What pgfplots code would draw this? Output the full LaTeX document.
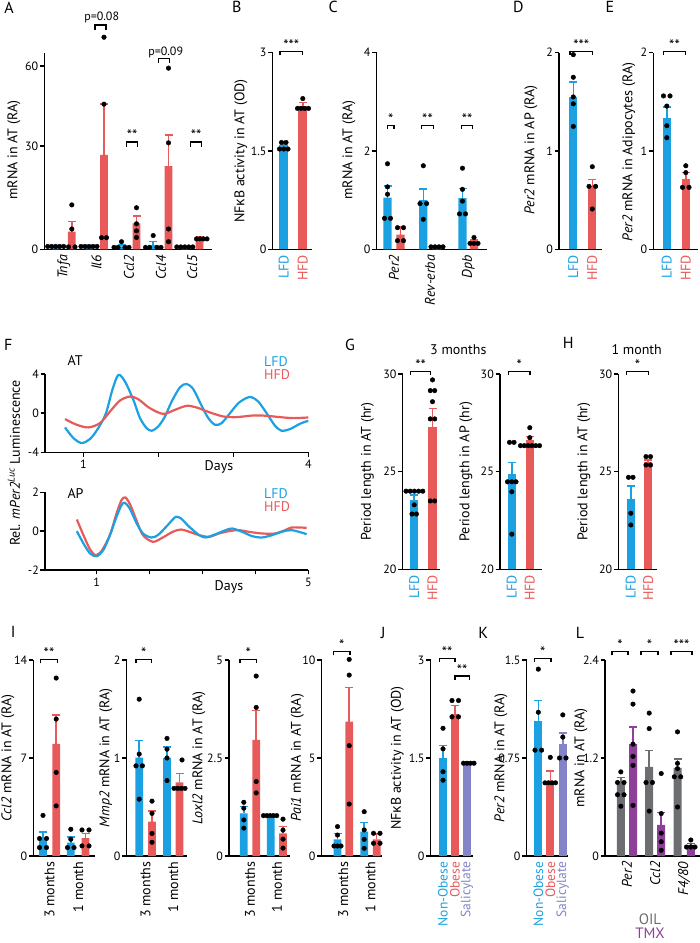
\documentclass[border=0pt]{standalone}
\usepackage{pgfplots}
\pgfplotsset{compat=1.18}
\usepackage{fontspec}
\setmainfont{PT Sans}
\newfontfamily\gk{Open Sans}
\definecolor{cB}{HTML}{1BA1E2}
\definecolor{cR}{HTML}{E85A5A}
\definecolor{cS}{HTML}{8383C8}
\definecolor{cO}{HTML}{6D6E71}
\definecolor{cT}{HTML}{8E3F99}
\newcommand\fT{\fontsize{12}{13}\selectfont}
\newcommand\fL{\fontsize{14}{15}\selectfont}
\newcommand\fX{\fontsize{15}{16}\selectfont}
\newcommand\fS{\fontsize{15}{16}\selectfont}
\newcommand\fP{\fontsize{16}{17}\selectfont}
\newcommand\brk[4]{\draw[line width=1.2pt] (#1,#4) -- (#1,#3) -- (#2,#3) -- (#2,#4);}
\newcommand\st[3]{\node[font=\fS, anchor=base, inner sep=0pt] at (#1,#2) {#3};}
\pgfplotsset{
 gp/.style={scale only axis, anchor=south west, axis x line*=bottom, axis y line*=left,
  axis line style={-, line width=1.5pt, black},
  tick align=outside, major tick length=4.5pt, tick style={line width=1.5pt, black},
  yticklabel style={font=\fT, inner sep=1.5pt}, xticklabel style={font=\fT},
  clip=false, /pgf/number format/assume math mode=true},
 barx/.style={xtick style={draw=none}, xticklabel style={font=\fL, rotate=90, anchor=east, inner sep=1pt}},
 bars/.style={ybar, bar shift=0pt, fill=#1, draw=none,
  error bars/y dir=plus, error bars/y explicit,
  error bars/error bar style={#1, line width=1.5pt},
  error bars/error mark options={rotate=90, #1, mark size=4pt, line width=1.5pt}},
 barsn/.style={ybar, bar shift=0pt, fill=#1, draw=none},
 errA/.style={#1, line width=1.5pt, mark=-, mark size=4pt, mark indices={2}, mark options={solid, #1, line width=1.5pt}},
 dots/.style={only marks, mark=*, mark size=2.3pt, black},
}
\begin{document}
\begin{tikzpicture}
\path[use as bounding box] (0,0) rectangle (700pt,943pt);

% ---------------- A (segmented axis: 0-30 and 30-65)
\begin{axis}[gp, at={(44.3pt,693.7pt)}, width=167.7pt, height=196.6pt,
 xmin=44.3, xmax=212, ymin=0, ymax=65,
 y coord trafo/.code={\pgfmathparse{(#1<=30)?(#1):(30+(#1-30)*0.775)}},
 y coord inv trafo/.code={\pgfmathparse{(#1<=30)?(#1):(30+(#1-30)/0.775)}},
 ytick={0,30,60}, yticklabels={0,30,60}, barx,
 xtick={63.75,96.5,129,160.85,192.15},
 xticklabels={\textit{Tnfa},\textit{Il6},\textit{Ccl2},\textit{Ccl4},\textit{Ccl5}}, bar width=7.7pt]
\addplot[barsn=cB] coordinates {(55.7,0.82)(89,0.82)(121.5,0.88)(153.2,1.23)(184.8,0.69)};
\addplot[barsn=cR] coordinates {(71.8,5.12)(104,27.4)(136.5,7.55)(168.5,24.2)(199.5,3.66)};
\addplot[errA=cB] coordinates {(121.5,0.88)(121.5,1.23)};
\addplot[errA=cB] coordinates {(153.2,1.23)(153.2,2.2)};
\addplot[errA=cR] coordinates {(71.8,5.12)(71.8,8.03)};
\addplot[errA=cR] coordinates {(104,27.4)(104,45.7)};
\addplot[errA=cR] coordinates {(136.5,7.55)(136.5,9.67)};
\addplot[errA=cR] coordinates {(168.5,24.2)(168.5,34.1)};
\addplot[errA=cR] coordinates {(199.5,3.66)(199.5,3.77)};
\addplot[dots] coordinates {(47.7,0.82)(51.7,0.82)(55.7,0.82)(59.7,0.82)(63.7,0.82)
 (71.8,12.9)(71.8,5.9)(68.5,0.69)(75,0.69)
 (81,0.82)(85,0.82)(89,0.82)(93,0.82)(97,0.82)
 (104,70.8)(104,45.7)(101.5,3.38)(106.5,3.38)
 (121.5,2.2)(114,0.55)(118,0.55)(125,0.55)(129,0.55)
 (136.5,12.07)(136.5,7.41)(136.5,5.35)(136.5,3.43)
 (153.2,4.0)(145.5,0.55)(149.5,0.55)(157,0.55)(161,0.55)
 (168.5,59.2)(168.5,31.2)(168.5,5.9)(168.5,2.2)
 (176.8,0.69)(180.8,0.69)(184.8,0.69)(188.8,0.69)(192.8,0.69)
 (196.5,3.02)(200,3.02)(203.5,3.02)(207,3.02)};
\end{axis}

% ---------------- B
\begin{axis}[gp, at={(272.7pt,693.7pt)}, width=39pt, height=196.6pt,
 xmin=272.7, xmax=311.7, ymin=0, ymax=3, ytick={0,1.5,3}, yticklabels={0,1.5,3}, barx,
 xtick={283.8,302.8}, xticklabels={\textcolor{cB}{LFD},\textcolor{cR}{HFD}}, bar width=9pt]
\addplot[bars=cB] coordinates {(283.8,1.59) +- (0,0.05)};
\addplot[bars=cR] coordinates {(302.8,2.19) +- (0,0.05)};
\addplot[dots] coordinates {(281.5,1.63)(286,1.63)(279.5,1.53)(283.8,1.53)(288,1.53)
 (302.8,2.30)(297.5,2.15)(301.2,2.15)(304.8,2.15)(308.5,2.15)};
\end{axis}

% ---------------- C
\begin{axis}[gp, at={(376.7pt,693.7pt)}, width=110pt, height=196.6pt,
 xmin=376.7, xmax=486.7, ymin=0, ymax=4, ytick={0,2,4}, yticklabels={0,2,4}, barx,
 xtick={394,430,468.25}, xticklabels={\textit{Per2},\textit{Rev-erba},\textit{Dpb}}, bar width=8.3pt]
\addplot[bars=cB] coordinates {(387.5,1.05) +- (0,0.24) (423.3,1.0) +- (0,0.23) (462.5,1.04) +- (0,0.2)};
\addplot[bars=cR] coordinates {(400.5,0.30) +- (0,0.16) (436.7,0.05) +- (0,0.01) (474,0.16) +- (0,0.03)};
\addplot[dots] coordinates {(387.5,1.74)(387.5,1.27)(387.5,1.12)(384.5,0.63)(390.5,0.63)
 (397.5,0.44)(403.5,0.44)(397.5,0.175)(403.5,0.175)
 (423.3,1.70)(420,0.93)(426.6,0.93)(423.3,0.61)
 (431,0.05)(435,0.05)(439,0.05)(443,0.05)
 (462.5,1.65)(462.5,1.22)(462.5,0.98)(459.5,0.72)(465.5,0.72)
 (474,0.24)(470,0.12)(474,0.12)(478,0.12)};
\end{axis}

% ---------------- D
\begin{axis}[gp, at={(559pt,693.7pt)}, width=42.7pt, height=196.6pt,
 xmin=559, xmax=601.7, ymin=0, ymax=2, ytick={0,1,2}, yticklabels={0,1,2}, barx,
 xtick={573.3,592.3}, xticklabels={\textcolor{cB}{LFD},\textcolor{cR}{HFD}}, bar width=8.3pt]
\addplot[bars=cB] coordinates {(573.3,1.553) +- (0,0.147)};
\addplot[bars=cR] coordinates {(592.3,0.64) +- (0,0.07)};
\addplot[dots] coordinates {(573.3,1.98)(573.3,1.75)(573.3,1.55)(573.3,1.48)(573.3,1.25)
 (592.3,0.84)(589,0.64)(595.6,0.64)(592.3,0.41)};
\end{axis}

% ---------------- E
\begin{axis}[gp, at={(653.3pt,693.7pt)}, width=45pt, height=196.6pt,
 xmin=653.3, xmax=698.3, ymin=0, ymax=2, ytick={0,1,2}, yticklabels={0,1,2}, barx,
 xtick={666.8,685.8}, xticklabels={\textcolor{cB}{LFD},\textcolor{cR}{HFD}}, bar width=8.3pt]
\addplot[bars=cB] coordinates {(666.8,1.34) +- (0,0.11)};
\addplot[bars=cR] coordinates {(685.8,0.715) +- (0,0.065)};
\addplot[dots] coordinates {(663.5,1.56)(670,1.56)(666.8,1.457)(666.8,1.257)(666.8,1.135)
 (685.8,0.85)(685.8,0.78)(682.5,0.63)(689,0.63)};
\end{axis}

% ---------------- F top (AT)
\begin{axis}[gp, at={(45pt,490.7pt)}, width=263.3pt, height=78.3pt,
 xmin=0.489, xmax=4, ymin=-4, ymax=4, ytick={-4,0,4}, yticklabels={-4,0,4},
 xtick={1,2,3,4}, xticklabels={1,,,4}]
\addplot[cB, line width=2.2pt, smooth, tension=0.5] coordinates {
 (0.756,-1.458)(0.867,-2.542)(0.978,-3.051)(1.089,-2.644)(1.2,-1.525)(1.302,0)(1.387,2.373)
 (1.467,3.898)(1.556,3.220)(1.667,1.356)(1.756,-0.508)(1.844,-1.525)(1.911,-1.797)(2.0,-1.356)
 (2.089,-0.339)(2.178,1.186)(2.289,2.644)(2.378,2.983)(2.467,2.441)(2.578,0.746)(2.667,-0.508)
 (2.756,-1.186)(2.844,-1.017)(2.956,0)(3.067,1.017)(3.178,1.559)(3.244,1.627)(3.333,1.186)
 (3.444,0)(3.556,-1.288)(3.644,-1.797)(3.756,-1.627)(3.889,-1.085)(4.0,-0.780)};
\addplot[cR, line width=2.2pt, smooth, tension=0.5] coordinates {
 (0.756,-0.610)(0.911,-1.186)(1.067,-1.458)(1.222,-1.017)(1.356,0.169)(1.489,1.288)(1.622,1.695)
 (1.733,1.424)(1.867,0.610)(2.0,0.068)(2.089,-0.068)(2.222,0.339)(2.378,0.746)(2.511,0.576)
 (2.689,0.068)(2.867,-0.339)(3.044,-0.407)(3.267,-0.237)(3.444,-0.271)(3.622,-0.407)
 (3.8,-0.508)(4.0,-0.441)};
\end{axis}

% ---------------- F bottom (AP)
\begin{axis}[gp, at={(45pt,373pt)}, width=263.3pt, height=77.7pt,
 xmin=0.023, xmax=5, ymin=-2, ymax=2, ytick={-2,0,2}, yticklabels={-2,0,2},
 xtick={1,2,3,4,5}, xticklabels={1,,,,5}]
\addplot[cR, line width=2.2pt, smooth, tension=0.5] coordinates {
 (0.625,0.601)(0.75,-0.206)(0.875,-0.944)(0.981,-1.236)(1.094,-1.013)(1.25,-0.206)(1.375,0.910)
 (1.469,1.597)(1.544,1.734)(1.638,1.339)(1.75,0.567)(1.875,-0.206)(2.063,-0.549)(2.25,-0.326)
 (2.438,-0.034)(2.594,0.086)(2.75,-0.034)(2.938,-0.206)(3.125,-0.292)(3.313,-0.120)(3.5,0)
 (3.688,0.052)(3.875,-0.034)(4.125,-0.120)(4.375,-0.120)(4.563,0.052)(4.688,0.189)(4.969,0.172)};
\addplot[cB, line width=2.2pt, smooth, tension=0.5] coordinates {
 (0.625,0)(0.75,-0.635)(0.875,-1.150)(1.0,-1.288)(1.125,-0.979)(1.25,-0.206)(1.375,0.738)
 (1.469,1.339)(1.531,1.459)(1.625,1.167)(1.75,0.429)(1.875,-0.120)(2.031,-0.326)(2.156,-0.206)
 (2.313,0.223)(2.438,0.601)(2.5,0.738)(2.594,0.652)(2.75,0.223)(2.938,-0.206)(3.063,-0.326)
 (3.25,-0.155)(3.438,0.052)(3.563,0.137)(3.75,-0.034)(3.938,-0.258)(4.125,-0.326)(4.313,-0.206)
 (4.5,-0.034)(4.688,0.052)(4.969,-0.155)};
\end{axis}

% ---------------- G1
\begin{axis}[gp, at={(402.7pt,373.7pt)}, width=37.3pt, height=195.3pt, clip=true, clip mode=individual,
 xmin=402.7, xmax=440, ymin=20, ymax=30, ytick={20,25,30}, yticklabels={20,25,30}, barx,
 xtick={414.2,432.5}, xticklabels={\textcolor{cB}{LFD},\textcolor{cR}{HFD}}, bar width=8.3pt]
\addplot[bars=cB] coordinates {(414.2,23.55) +- (0,0.25)};
\addplot[bars=cR] coordinates {(432.5,27.3) +- (0,0.94)};
\addplot[dots] coordinates {(406,24)(410.2,24)(414.4,24)(418.6,24)(422.8,24)(414.2,23.3)(412,22.83)(416.4,22.83)
 (432.5,29.7)(430.3,29.15)(434.7,29.15)(432.5,28.58)(430.3,27.7)(434.7,27.7)(430.3,23.5)(434.7,23.5)};
\end{axis}

% ---------------- G2
\begin{axis}[gp, at={(500pt,373.7pt)}, width=41.7pt, height=195.3pt, clip=true, clip mode=individual,
 xmin=500, xmax=541.7, ymin=20, ymax=30, ytick={20,25,30}, yticklabels={20,25,30}, barx,
 xtick={511.8,529.8}, xticklabels={\textcolor{cB}{LFD},\textcolor{cR}{HFD}}, bar width=8.3pt]
\addplot[bars=cB] coordinates {(511.8,24.88) +- (0,0.6)};
\addplot[bars=cR] coordinates {(529.8,26.63) +- (0,0.17)};
\addplot[dots] coordinates {(509.5,26.5)(514,26.5)(507.5,24.48)(511.8,24.48)(516,24.48)(511.8,23.97)(511.8,21.8)
 (529.8,27.25)(529.8,26.74)(520.5,26.33)(524.3,26.33)(528.1,26.33)(531.9,26.33)(535.7,26.33)(539.5,26.33)};
\end{axis}

% ---------------- H
\begin{axis}[gp, at={(618.3pt,373.7pt)}, width=38.4pt, height=195.3pt, clip=true, clip mode=individual,
 xmin=618.3, xmax=656.7, ymin=20, ymax=30, ytick={20,25,30}, yticklabels={20,25,30}, barx,
 xtick={630.8,648.2}, xticklabels={\textcolor{cB}{LFD},\textcolor{cR}{HFD}}, bar width=8.3pt]
\addplot[bars=cB] coordinates {(630.8,23.6) +- (0,0.66)};
\addplot[bars=cR] coordinates {(648.2,25.5) +- (0,0.1)};
\addplot[dots] coordinates {(628.5,24.71)(633,24.71)(630.8,22.87)(630.8,22.27)
 (646,25.77)(650.5,25.77)(646,25.34)(650.5,25.34)};
\end{axis}

% ---------------- I1 Ccl2
\begin{axis}[gp, at={(33.3pt,87pt)}, width=61.7pt, height=196pt,
 xmin=33.3, xmax=95, ymin=0, ymax=14, ytick={0,7,14}, yticklabels={0,7,14}, barx,
 xtick={49.6,78.15}, xticklabels={3 months,1 month}, bar width=7.7pt]
\addplot[bars=cB] coordinates {(43,1.245) +- (0,0.475) (70.8,0.96) +- (0,0.4)};
\addplot[bars=cR] coordinates {(56.2,8.0) +- (0,2.07) (85.5,1.27) +- (0,0.35)};
\addplot[dots] coordinates {(43,2.9)(39.5,1.25)(46.5,1.25)(39.5,0.6)(46.5,0.6)
 (56.2,12.71)(56.2,9.78)(56.2,5.97)(56.2,3.58)
 (70.8,1.91)(70.8,1.2)(67.5,0.6)(74,0.6)
 (82,1.86)(89,1.86)(82,0.72)(89,0.72)};
\end{axis}

% ---------------- I2 Mmp2
\begin{axis}[gp, at={(126.7pt,87pt)}, width=60pt, height=196pt,
 xmin=126.7, xmax=186.7, ymin=0, ymax=2, ytick={0,1,2}, yticklabels={0,1,2}, barx,
 xtick={145.6,173.25}, xticklabels={3 months,1 month}, bar width=7.7pt]
\addplot[bars=cB] coordinates {(139.2,1.003) +- (0,0.177) (167,1.0) +- (0,0.11)};
\addplot[bars=cR] coordinates {(152,0.35) +- (0,0.11) (179.5,0.75) +- (0,0.09)};
\addplot[dots] coordinates {(139.2,1.60)(139.2,1.04)(136,0.92)(142.4,0.92)(139.2,0.58)
 (152,0.56)(152,0.435)(152,0.23)(152,0.14)
 (167,1.2)(167,1.09)(167,1.0)(167,0.77)
 (182,0.98)(174,0.69)(177.7,0.69)(181.3,0.69)(185,0.69)};
\end{axis}

% ---------------- I3 Loxl2
\begin{axis}[gp, at={(229pt,87pt)}, width=61pt, height=196pt,
 xmin=229, xmax=290, ymin=0, ymax=5, ytick={0,2.5,5}, yticklabels={0,2.5,5}, barx,
 xtick={250,276.9}, xticklabels={3 months,1 month}, bar width=7.7pt]
\addplot[bars=cB] coordinates {(243.8,1.09) +- (0,0.17) (270.8,1.03) +- (0,0)};
\addplot[bars=cR] coordinates {(256.2,2.96) +- (0,0.75) (283,0.58) +- (0,0.17)};
\addplot[dots] coordinates {(243.8,1.37)(243.8,1.22)(243.8,0.92)(243.8,0.71)
 (256.2,4.59)(256.2,3.79)(256.2,1.9)(256.2,1.61)
 (263.5,1.03)(266.8,1.03)(270,1.03)(273.3,1.03)(276.7,1.03)
 (283,0.94)(283,0.66)(283,0.43)(283,0.2)};
\end{axis}

% ---------------- I4 Pai1
\begin{axis}[gp, at={(321.7pt,87pt)}, width=60pt, height=196pt,
 xmin=321.7, xmax=381.7, ymin=0, ymax=10, ytick={0,5,10}, yticklabels={0,5,10}, barx,
 xtick={343.35,370.45}, xticklabels={3 months,1 month}, bar width=7.7pt]
\addplot[bars=cB] coordinates {(337.5,0.85) +- (0,0.3) (364.2,1.24) +- (0,0.46)};
\addplot[bars=cR] coordinates {(349.2,6.85) +- (0,1.75) (376.7,0.85) +- (0,0.26)};
\addplot[dots] coordinates {(337.5,1.5)(337.5,1.07)(334,0.51)(337.5,0.51)(341,0.51)
 (349.2,10.03)(349.2,9.23)(349.2,5.63)(349.2,2.65)
 (364.2,2.26)(364.2,1.33)(364.2,0.85)(364.2,0.39)
 (373.5,1.16)(380,1.16)(373.5,0.65)(380,0.65)};
\end{axis}

% ---------------- J
\begin{axis}[gp, at={(430.7pt,87pt)}, width=42.6pt, height=196pt,
 xmin=430.7, xmax=473.3, ymin=0, ymax=3, ytick={0,1.5,3}, yticklabels={0,1.5,3}, barx,
 xticklabel style={font=\fontsize{13.5}{14}\selectfont},
 xtick={443,455,467}, xticklabels={\textcolor{cB}{Non-Obese},\textcolor{cR}{Obese},\textcolor{cS}{Salicylate}}, bar width=7.7pt]
\addplot[bars=cB] coordinates {(443,1.5) +- (0,0.19)};
\addplot[bars=cR] coordinates {(455,2.17) +- (0,0.13)};
\addplot[bars=cS] coordinates {(467,1.42) +- (0,0)};
\addplot[dots] coordinates {(443,1.955)(443,1.64)(443,1.29)(443,1.16)
 (452,2.38)(458.5,2.38)(452,2.13)(458.5,2.13)
 (463.5,1.42)(467,1.42)(470.5,1.42)(474,1.42)};
\end{axis}

% ---------------- K
\begin{axis}[gp, at={(526.7pt,87pt)}, width=41.6pt, height=196pt,
 xmin=526.7, xmax=568.3, ymin=0, ymax=1.5, ytick={0,0.75,1.5}, yticklabels={0,0.75,1.5}, barx,
 xticklabel style={font=\fontsize{13.5}{14}\selectfont},
 xtick={538.3,550.3,562.8}, xticklabels={\textcolor{cB}{Non-Obese},\textcolor{cR}{Obese},\textcolor{cS}{Salicylate}}, bar width=7.7pt]
\addplot[bars=cB] coordinates {(538.3,1.03) +- (0,0.16)};
\addplot[bars=cR] coordinates {(550.3,0.56) +- (0,0.09)};
\addplot[bars=cS] coordinates {(562.8,0.86) +- (0,0.08)};
\addplot[dots] coordinates {(538.3,1.43)(538.3,1.10)(535,0.81)(541.6,0.81)
 (550.3,0.755)(545,0.56)(548.5,0.56)(552,0.56)(555.5,0.56)
 (562.8,1.08)(562.8,0.91)(559.5,0.75)(566,0.75)};
\end{axis}

% ---------------- L
\begin{axis}[gp, at={(605pt,87pt)}, width=94.5pt, height=196pt,
 xmin=605, xmax=699.5, ymin=0, ymax=2.4, ytick={0,1.2,2.4}, yticklabels={0,1.2,2.4}, barx,
 xtick={626.9,655.2,684.15}, xticklabels={\textit{Per2},\textit{Ccl2},\textit{F4/80}}, bar width=8pt]
\addplot[bars=cO] coordinates {(620.8,0.88) +- (0,0.08) (649.2,1.09) +- (0,0.2) (677.5,1.08) +- (0,0.11)};
\addplot[bars=cT] coordinates {(633,1.37) +- (0,0.21) (661.2,0.38) +- (0,0.15) (690.8,0.135) +- (0,0.02)};
\addplot[dots] coordinates {(620.8,1.03)(617.5,0.90)(624,0.90)(617.5,0.75)(624,0.75)(620.8,0.61)
 (633,2.02)(633,1.86)(633,1.37)(633,1.22)(633,1.11)(633,0.62)
 (649.2,1.75)(649.2,1.56)(646,0.9)(652.4,0.9)(649.2,0.55)
 (661.2,1.01)(661.2,0.52)(661.2,0.28)(661.2,0.175)(661.2,0.07)
 (677.5,1.52)(677.5,1.135)(677.5,1.07)(674.3,0.97)(680.7,0.97)(677.5,0.6)
 (690.8,0.196)(686.5,0.11)(690.8,0.11)(695,0.11)};
\end{axis}

% ---------------- annotations
\begin{scope}[x=1pt,y=-1pt,yshift=943pt]
% panel letters
\node[font=\fP] at (9,8) {A};
\node[font=\fP] at (236.7,7) {B};
\node[font=\fP] at (333.3,7) {C};
\node[font=\fP] at (518.3,7) {D};
\node[font=\fP] at (610,7) {E};
\node[font=\fP] at (8.3,345) {F};
\node[font=\fP] at (350,345) {G};
\node[font=\fP] at (568.3,343.3) {H};
\node[font=\fP] at (13.3,631.7) {I};
\node[font=\fP] at (383.3,633.3) {J};
\node[font=\fP] at (483.3,633.3) {K};
\node[font=\fP] at (580,633.3) {L};
% y labels
\node[font=\fL, rotate=90] at (14,150) {mRNA in AT (RA)};
\node[font=\fL, rotate=90] at (241,151) {NF{\gk κ}B activity in AT (OD)};
\node[font=\fL, rotate=90] at (349,150) {mRNA in AT (RA)};
\node[font=\fL, rotate=90] at (531,150) {\textit{Per2} mRNA in AP (RA)};
\node[font=\fL, rotate=90] at (629,152) {\textit{Per2} mRNA in Adipocytes (RA)};
\node[font=\fL, rotate=90] at (14,463) {Rel. \textit{mPer2}\textsuperscript{\textit{Luc}} Luminescence};
\node[font=\fL, rotate=90] at (367.5,471.7) {Period length in AT (hr)};
\node[font=\fL, rotate=90] at (466,471.7) {Period length in AP (hr)};
\node[font=\fL, rotate=90] at (584,471.7) {Period length in AT (hr)};
\node[font=\fL, rotate=90] at (8,758) {\textit{Ccl2} mRNA in AT (RA)};
\node[font=\fL, rotate=90] at (106,758) {\textit{Mmp2} mRNA in AT (RA)};
\node[font=\fL, rotate=90] at (199,758) {\textit{Loxl2} mRNA in AT (RA)};
\node[font=\fL, rotate=90] at (297.5,758) {\textit{Pai1} mRNA in AT (RA)};
\node[font=\fL, rotate=90] at (397.5,758) {NF{\gk κ}B activity in AT (OD)};
\node[font=\fL, rotate=90] at (501,758) {\textit{Per2} mRNA in AT (RA)};
\node[font=\fL, rotate=90] at (581,758) {mRNA in AT (RA)};
% titles and texts
\node[font=\fL] at (458.3,350) {3 months};
\node[font=\fL] at (636.7,350) {1 month};
\node[font=\fL, anchor=west] at (64,361) {AT};
\node[font=\fontsize{14}{13}\selectfont, anchor=north west, align=left, inner sep=0pt] at (264,356.5)
 {\textcolor{cB}{LFD}\\\textcolor{cR}{HFD}};
\node[font=\fL] at (219,467) {Days};
\node[font=\fL, anchor=west] at (64,493.3) {AP};
\node[font=\fontsize{14}{13}\selectfont, anchor=north west, align=left, inner sep=0pt] at (264,488.5)
 {\textcolor{cB}{LFD}\\\textcolor{cR}{HFD}};
\node[font=\fL] at (229,587.3) {Days};
\node[font=\fX, align=center, inner sep=0pt, anchor=north] at (650,914)
 {\textcolor{cO}{OIL}\\[-2pt]\textcolor{cT}{TMX}};
\node[font=\fT, anchor=base] at (101.7,21) {p=0.08};
\node[font=\fT, anchor=base] at (165.7,56) {p=0.09};
% brackets
\brk{95}{106}{25}{30}
\brk{126.7}{137.7}{142}{147}
\brk{158.3}{169.3}{58.5}{63}
\brk{190.7}{201.7}{142}{147}
\brk{280}{302.7}{51.7}{55}
\brk{387.3}{394}{125.7}{128.7}
\brk{421.7}{433.3}{125.7}{128.7}
\brk{461.7}{472.7}{125.7}{128.7}
\brk{570}{592.3}{51.7}{55}
\brk{663.3}{685.7}{51.7}{55}
\brk{410.7}{430.7}{371.7}{375.5}
\brk{508.3}{530}{371.7}{375.5}
\brk{626.7}{648.3}{371.7}{375.5}
\brk{40.7}{57.3}{659.3}{663.3}
\brk{136}{151.7}{659.3}{663.3}
\brk{240}{256.7}{659.3}{663.3}
\brk{333.3}{350}{651.7}{655.5}
\brk{439.3}{455}{658.3}{662}
\brk{455}{469.3}{676}{680}
\brk{534.3}{551}{658.3}{662}
\brk{612}{628}{651.7}{655.5}
\brk{641}{658}{651.7}{655.5}
\brk{671}{692}{651.7}{655.5}
% stars
\st{132.2}{140.5}{**}
\st{196.2}{140.5}{**}
\st{291.3}{51}{***}
\st{390.7}{125}{*}
\st{427.5}{125}{**}
\st{467.2}{125}{**}
\st{581.2}{51}{***}
\st{674.5}{51}{**}
\st{420.7}{371}{**}
\st{519.2}{371}{*}
\st{637.5}{371}{*}
\st{49}{658.6}{**}
\st{143.8}{658.6}{*}
\st{248.3}{658.6}{*}
\st{341.7}{651}{*}
\st{447.2}{657.6}{**}
\st{462.2}{675.3}{**}
\st{542.7}{657.6}{*}
\st{620}{651}{*}
\st{649.5}{651}{*}
\st{681.5}{651}{***}
\end{scope}
\end{tikzpicture}
\end{document}
